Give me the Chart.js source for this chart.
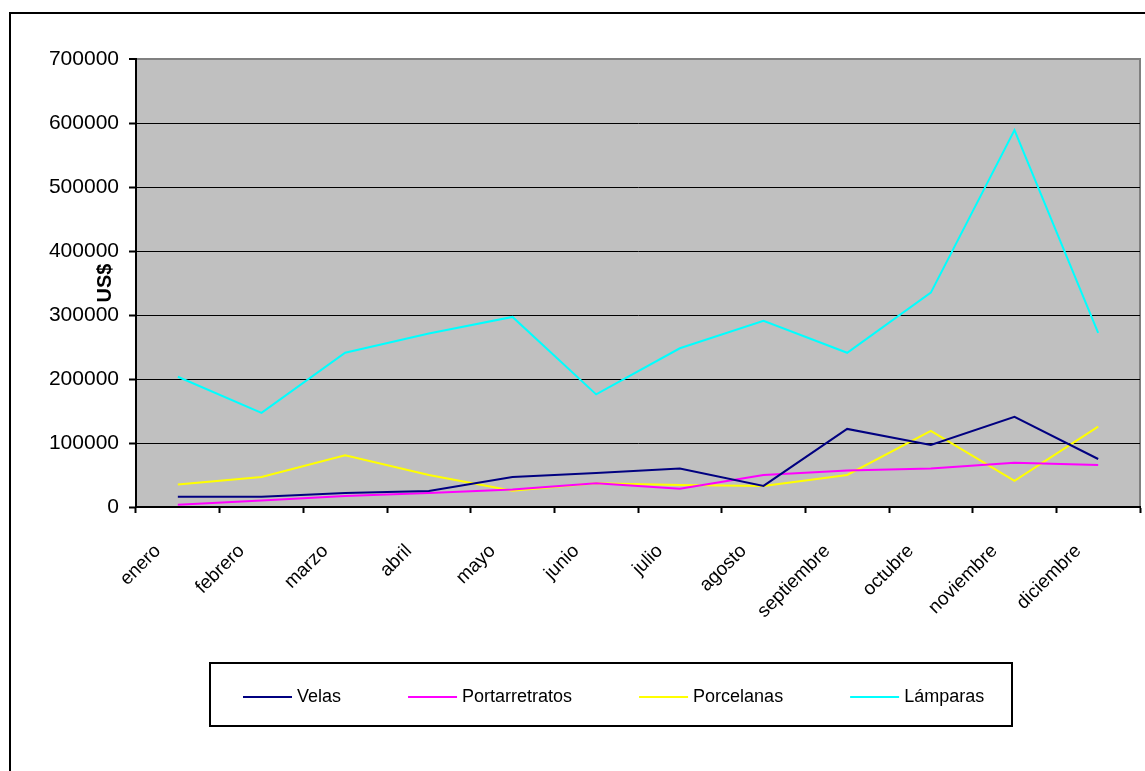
<!DOCTYPE html>
<html><head><meta charset="utf-8">
<script src="https://cdn.jsdelivr.net/npm/chart.js@4.4.0/dist/chart.umd.min.js"></script>
<style>
html,body{margin:0;padding:0;background:#fff;overflow:hidden;width:1145px;height:771px;}
#frame{position:absolute;left:9px;top:12px;width:1200px;height:800px;border:2px solid #000;box-sizing:border-box;}
#wrap{position:absolute;left:0;top:0;width:1145px;height:771px;}
</style></head><body>
<div id="frame"></div>
<div id="wrap"><canvas id="c" width="1145" height="771"></canvas></div>
<script>
const categories = ["enero","febrero","marzo","abril","mayo","junio","julio","agosto","septiembre","octubre","noviembre","diciembre"];
const velas          = [16000, 16000, 22000, 25000, 47000, 53000, 60000, 33000, 122000, 97000, 141000, 75000];
const portarretratos = [3500, 10000, 17000, 22000, 27500, 37000, 28500, 50000, 57000, 60000, 69000, 65500];
const porcelanas     = [35000, 47000, 81000, 50000, 25500, 37000, 34500, 33000, 50000, 119000, 41000, 125500];
const lamparas       = [203500, 147000, 241000, 271000, 297000, 176000, 248000, 291000, 241000, 335000, 589000, 272000];
const seriesNames = ["Velas","Portarretratos","Porcelanas","Lámparas"];
const seriesColors = ["#000080","#FF00FF","#FFFF00","#00FFFF"];
const yMin = 0, yMax = 700000, yStep = 100000;
const yTitle = "US$";

const FONT = "'Liberation Sans', Arial, sans-serif";
Chart.defaults.font.family = FONT;
Chart.defaults.color = "#000";

const bgPlugin = {
  id: 'bg',
  beforeDraw(chart) {
    const {ctx, chartArea: a} = chart;
    ctx.save();
    ctx.fillStyle = '#C0C0C0';
    ctx.fillRect(a.left, a.top, a.right - a.left, a.bottom - a.top);
    ctx.strokeStyle = '#808080';
    ctx.lineWidth = 2;
    ctx.beginPath();
    ctx.moveTo(a.left, a.top);
    ctx.lineTo(a.right, a.top);
    ctx.lineTo(a.right, a.bottom);
    ctx.stroke();
    ctx.restore();
  }
};

const legendPlugin = {
  id: 'boxLegend',
  afterDraw(chart) {
    const ctx = chart.ctx;
    ctx.save();
    ctx.strokeStyle = '#000';
    ctx.lineWidth = 2;
    ctx.strokeRect(210, 663, 802, 63);
    ctx.font = "18px " + FONT;
    ctx.textBaseline = 'middle';
    ctx.textAlign = 'left';
    let x = 243;
    const y = 697;
    chart.data.datasets.forEach(ds => {
      ctx.strokeStyle = ds.borderColor;
      ctx.lineWidth = 2;
      ctx.beginPath();
      ctx.moveTo(x, y);
      ctx.lineTo(x + 49, y);
      ctx.stroke();
      ctx.fillStyle = '#000';
      ctx.fillText(ds.label, x + 54, y);
      x += 54 + ctx.measureText(ds.label).width + 67;
    });
    ctx.restore();
  }
};

const allSeries = [velas, portarretratos, porcelanas, lamparas];
new Chart(document.getElementById('c'), {
  type: 'line',
  data: {
    labels: categories,
    datasets: allSeries.map((d, i) => ({
      label: seriesNames[i],
      data: d,
      borderColor: seriesColors[i],
      backgroundColor: seriesColors[i],
      borderWidth: 2,
      pointRadius: 0,
      tension: 0,
      fill: false
    }))
  },
  options: {
    responsive: false,
    animation: false,
    devicePixelRatio: 1,
    layout: { padding: { left: 0, top: 59, right: 5, bottom: 0 } },
    plugins: { legend: { display: false }, tooltip: { enabled: false } },
    scales: {
      x: {
        type: 'category',
        offset: true,
        grid: { offset: true, drawOnChartArea: false, drawTicks: true, tickLength: 6, tickColor: '#000', tickWidth: 2 },
        border: { display: true, color: '#000', width: 2 },
        ticks: { autoSkip: false, maxRotation: 45, minRotation: 45, color: '#000', font: { size: 19 }, padding: 27, labelOffset: -20 },
        afterFit(s) { s.height = 264; s.paddingLeft = 0; s.paddingRight = 0; }
      },
      y: {
        min: yMin, max: yMax,
        ticks: { stepSize: yStep, color: '#000', font: { size: 21 }, padding: 10, callback: v => String(v) },
        grid: {
          color: c => (c.tick && c.tick.value === yMax) ? '#808080' : '#000',
          lineWidth: c => (c.tick && c.tick.value === yMax) ? 2 : 1,
          tickColor: '#000', tickLength: 7, tickWidth: 2
        },
        border: { display: true, color: '#000', width: 2 },
        title: { display: true, text: yTitle, color: '#000', font: { size: 20, weight: 'bold' }, padding: { top: 93, bottom: 0 } },
        afterFit(s) { s.width = 136; s.paddingTop = 0; s.paddingBottom = 0; }
      }
    }
  },
  plugins: [bgPlugin, legendPlugin]
});
</script>
</body></html>
